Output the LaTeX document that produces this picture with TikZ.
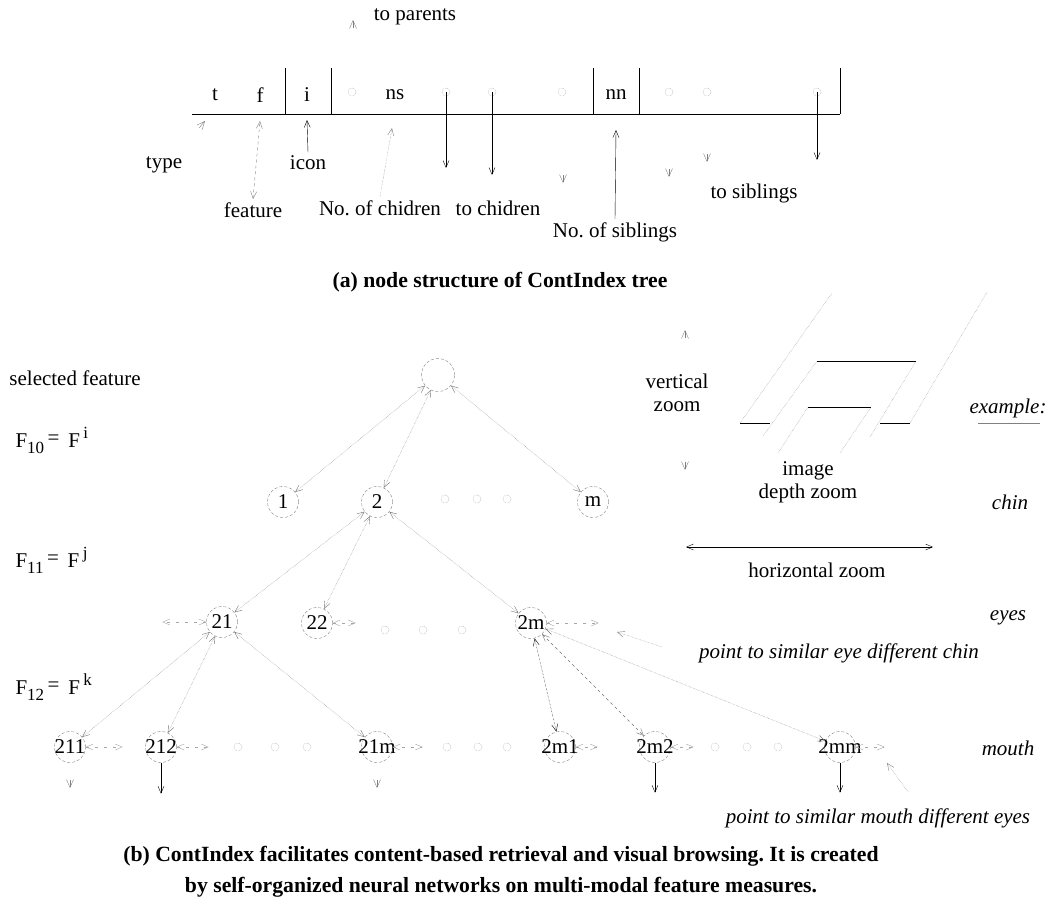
\documentclass[tikz,border=0pt]{standalone}
\usepackage{fontspec}
\setmainfont{Liberation Serif}
\usetikzlibrary{arrows.meta}

\newcommand{\featlab}[2]{F\raisebox{-6pt}{\fontsize{17}{17}\selectfont #1}\,\raisebox{3pt}{=}\, F\,\raisebox{9pt}{\fontsize{17}{17}\selectfont #2}}

\tikzset{
  every node/.style={font=\fontsize{21}{23}\selectfont},
  tnode/.style={circle, draw=gray, densely dashed, minimum size=31pt, inner sep=0pt, label={center:#1}},
  dotc/.style={circle, draw=gray, densely dotted, minimum size=8pt, inner sep=0pt},
  tedge/.style={<->, black!55, densely dotted},
  sib/.style={<->, gray!70, loosely dashed},
  lonetip/.style={-{Straight Barb[length=8pt,width=7pt]}, gray},
  captext/.style={font=\fontsize{21.7}{31}\selectfont\bfseries, align=center}
}

\begin{document}
\frenchspacing
\begin{tikzpicture}[x=1pt, y=-1pt, >={Straight Barb[length=7pt,width=6pt]}]
  \useasboundingbox (0,0) rectangle (1051,898);

  % (a) node structure
  \node (par) at (415,17) {to parents};
  \draw[lonetip] (353,28) -- (353,20);
  \draw (192,114) -- (840,114);
  \foreach \x in {285,331,593,639,840}
    \draw (\x,68) -- (\x,114);
  \node (tt) at (215,95) {t};
  \node (ff) at (260,95) {f};
  \node (ii) at (307,95) {i};
  \node (ns) at (395,95) {ns};
  \node (nn) at (616,95) {nn};
  \foreach \x [count=\k] in {352,446,492,562,669,707,817}
    \node[dotc] (c\k) at (\x,92) {};

  \node (type) at (164,165) {type};
  \draw[lonetip] (199,128) -- (205,121);
  \node (feat) at (253,210) {feature};
  \draw[<->, dashed, gray] (feat.north) -- (ff |- 0,121);
  \node (icon) at (308,163) {icon};
  \draw[->] (icon.north) -- (ii |- 0,120);
  \node (nch) at (380,208) {No. of chidren};
  \draw[->, densely dotted, gray] (nch.north) -- (392,128);
  \node (tch) at (498,208) {to chidren};
  \draw[->] (c2.center) -- +(0,76);
  \draw[->] (c3.center) -- +(0,83);
  \draw[->] (c7.center) -- +(0,68);
  \draw[lonetip] (563,175) -- (563,183);
  \draw[lonetip] (669,169) -- (669,177);
  \draw[lonetip] (707,154) -- (707,162);
  \node (nsib) at (615,232) {No. of siblings};
  \draw[->] (nsib.north) -- (nn |- 0,130);
  \node (tsib) at (754,193) {to siblings};

  \node[captext] (capa) at (500,282) {(a) node structure of ContIndex tree};

  % (b) tree
  \node (self) at (75,378) {selected feature};
  \node[anchor=west] (f10) at (12,440) {\featlab{10}{i}};
  \node[anchor=west] (f11) at (12,560) {\featlab{11}{j}};
  \node[anchor=west] (f12) at (12,687) {\featlab{12}{k}};

  \node[tnode={}, minimum size=33pt] (root) at (438,375) {};
  \node[tnode=1] (n1) at (283,502) {};
  \node[tnode=2] (n2) at (377,502) {};
  \node[tnode=m] (nm) at (593,502) {};
  \foreach \x [count=\k] in {445,477,507}
    \node[dotc] (da\k) at (\x,499) {};

  \node[tnode=21] (n21) at (222,622) {};
  \node[tnode=22] (n22) at (317,623) {};
  \node[tnode=2m] (n2m) at (531,623) {};
  \foreach \x [count=\k] in {385,423,462}
    \node[dotc] (db\k) at (\x,630) {};

  \node[tnode=211] (n211) at (70,747) {};
  \node[tnode=212] (n212) at (161,747) {};
  \node[tnode=21m] (n21m) at (377,747) {};
  \node[tnode=2m1] (n2m1) at (560,747) {};
  \node[tnode=2m2] (n2m2) at (655,747) {};
  \node[tnode=2mm] (n2mm) at (840,747) {};
  \foreach \x [count=\k] in {238,275,307,447,478,507,715,747,778}
    \node[dotc] (dc\k) at (\x,747) {};

  \foreach \a/\b in {root/n1, root/n2, root/nm, n2/n21, n2/n22, n2/n2m,
                     n21/n211, n21/n212, n21/n21m, n2m/n2mm}
    \draw[tedge] (\a) -- (\b);
  \draw[<->, densely dotted] (n2m) -- (n2m1);
  \draw[tedge, dashed] (n2m) -- (n2m2);

  % siblings
  \draw[sib] (n21.west) -- +(-44,0);
  \draw[sib] (n22.east) -- +(23,0);
  \draw[sib] (n2m.east) -- +(52,0);
  \draw[sib] (n211.east) -- +(37,0);
  \draw[sib] (n212.east) -- +(32,0);
  \draw[sib] (n21m.east) -- +(30,0);
  \draw[sib] (n2m1.east) -- +(22,0);
  \draw[sib] (n2m2.east) -- +(23,0);
  \draw[sib] (n2mm.east) -- +(29,0);

  % to children
  \draw[->] (n212.south) -- +(0,31);
  \draw[->] (n2m2.south) -- +(0,30);
  \draw[->] (n2mm.south) -- +(0,30);
  \draw[lonetip] (70,780) -- (70,788);
  \draw[lonetip] (377,780) -- (377,788);

  % levels
  \node[font=\fontsize{21}{23}\selectfont\itshape] (chin) at (1010,502) {chin};
  \node[font=\fontsize{21}{23}\selectfont\itshape] (eyes) at (1008,618) {eyes};
  \node[font=\fontsize{21}{23}\selectfont\itshape] (mouth) at (1008,748) {mouth};
  \node[font=\fontsize{21}{23}\selectfont\itshape] (eyenote) at (839,653) {point to similar eye different chin};
  \draw[->, densely dotted, gray] (662,647) -- (617,632);
  \node[font=\fontsize{21}{23}\selectfont\itshape] (mouthnote) at (878,818) {point to similar mouth different eyes};
  \draw[->, densely dotted, gray] (908,792) -- (887,763);

  % zoom directions
  \node[align=center] (vz) at (677,393) {vertical\\zoom};
  \draw[lonetip] (685,338) -- (685,330);
  \draw[lonetip] (685,462) -- (685,470);
  \node[align=center] (dz) at (808,482) {image\\depth zoom};
  \draw[<->] (686,547) -- (933,547);
  \node (hz) at (817,570) {horizontal zoom};
  \node[font=\fontsize{21}{23}\selectfont\itshape] (ex) at (1008,408) {example:};
  \draw[gray, thick] (978,423) -- (1040,423);

  \draw[gray, densely dotted] (832,293) -- (740,423);
  \draw[gray, densely dotted] (987,292) -- (910,423);
  \draw (740,423) -- (770,423);
  \draw (880,423) -- (910,423);
  \draw (817,361) -- (916,361);
  \draw[gray, densely dotted] (817,361) -- (763,436);
  \draw[gray, densely dotted] (916,361) -- (870,437);
  \draw (808,407) -- (871,407);
  \draw[gray, densely dotted] (808,407) -- (778,453);
  \draw[gray, densely dotted] (871,407) -- (840,453);

  \node[captext] (capb) at (501,872) {(b) ContIndex facilitates content-based retrieval and visual browsing. It is created\\by self-organized neural networks on multi-modal feature measures.};
\end{tikzpicture}
\end{document}
